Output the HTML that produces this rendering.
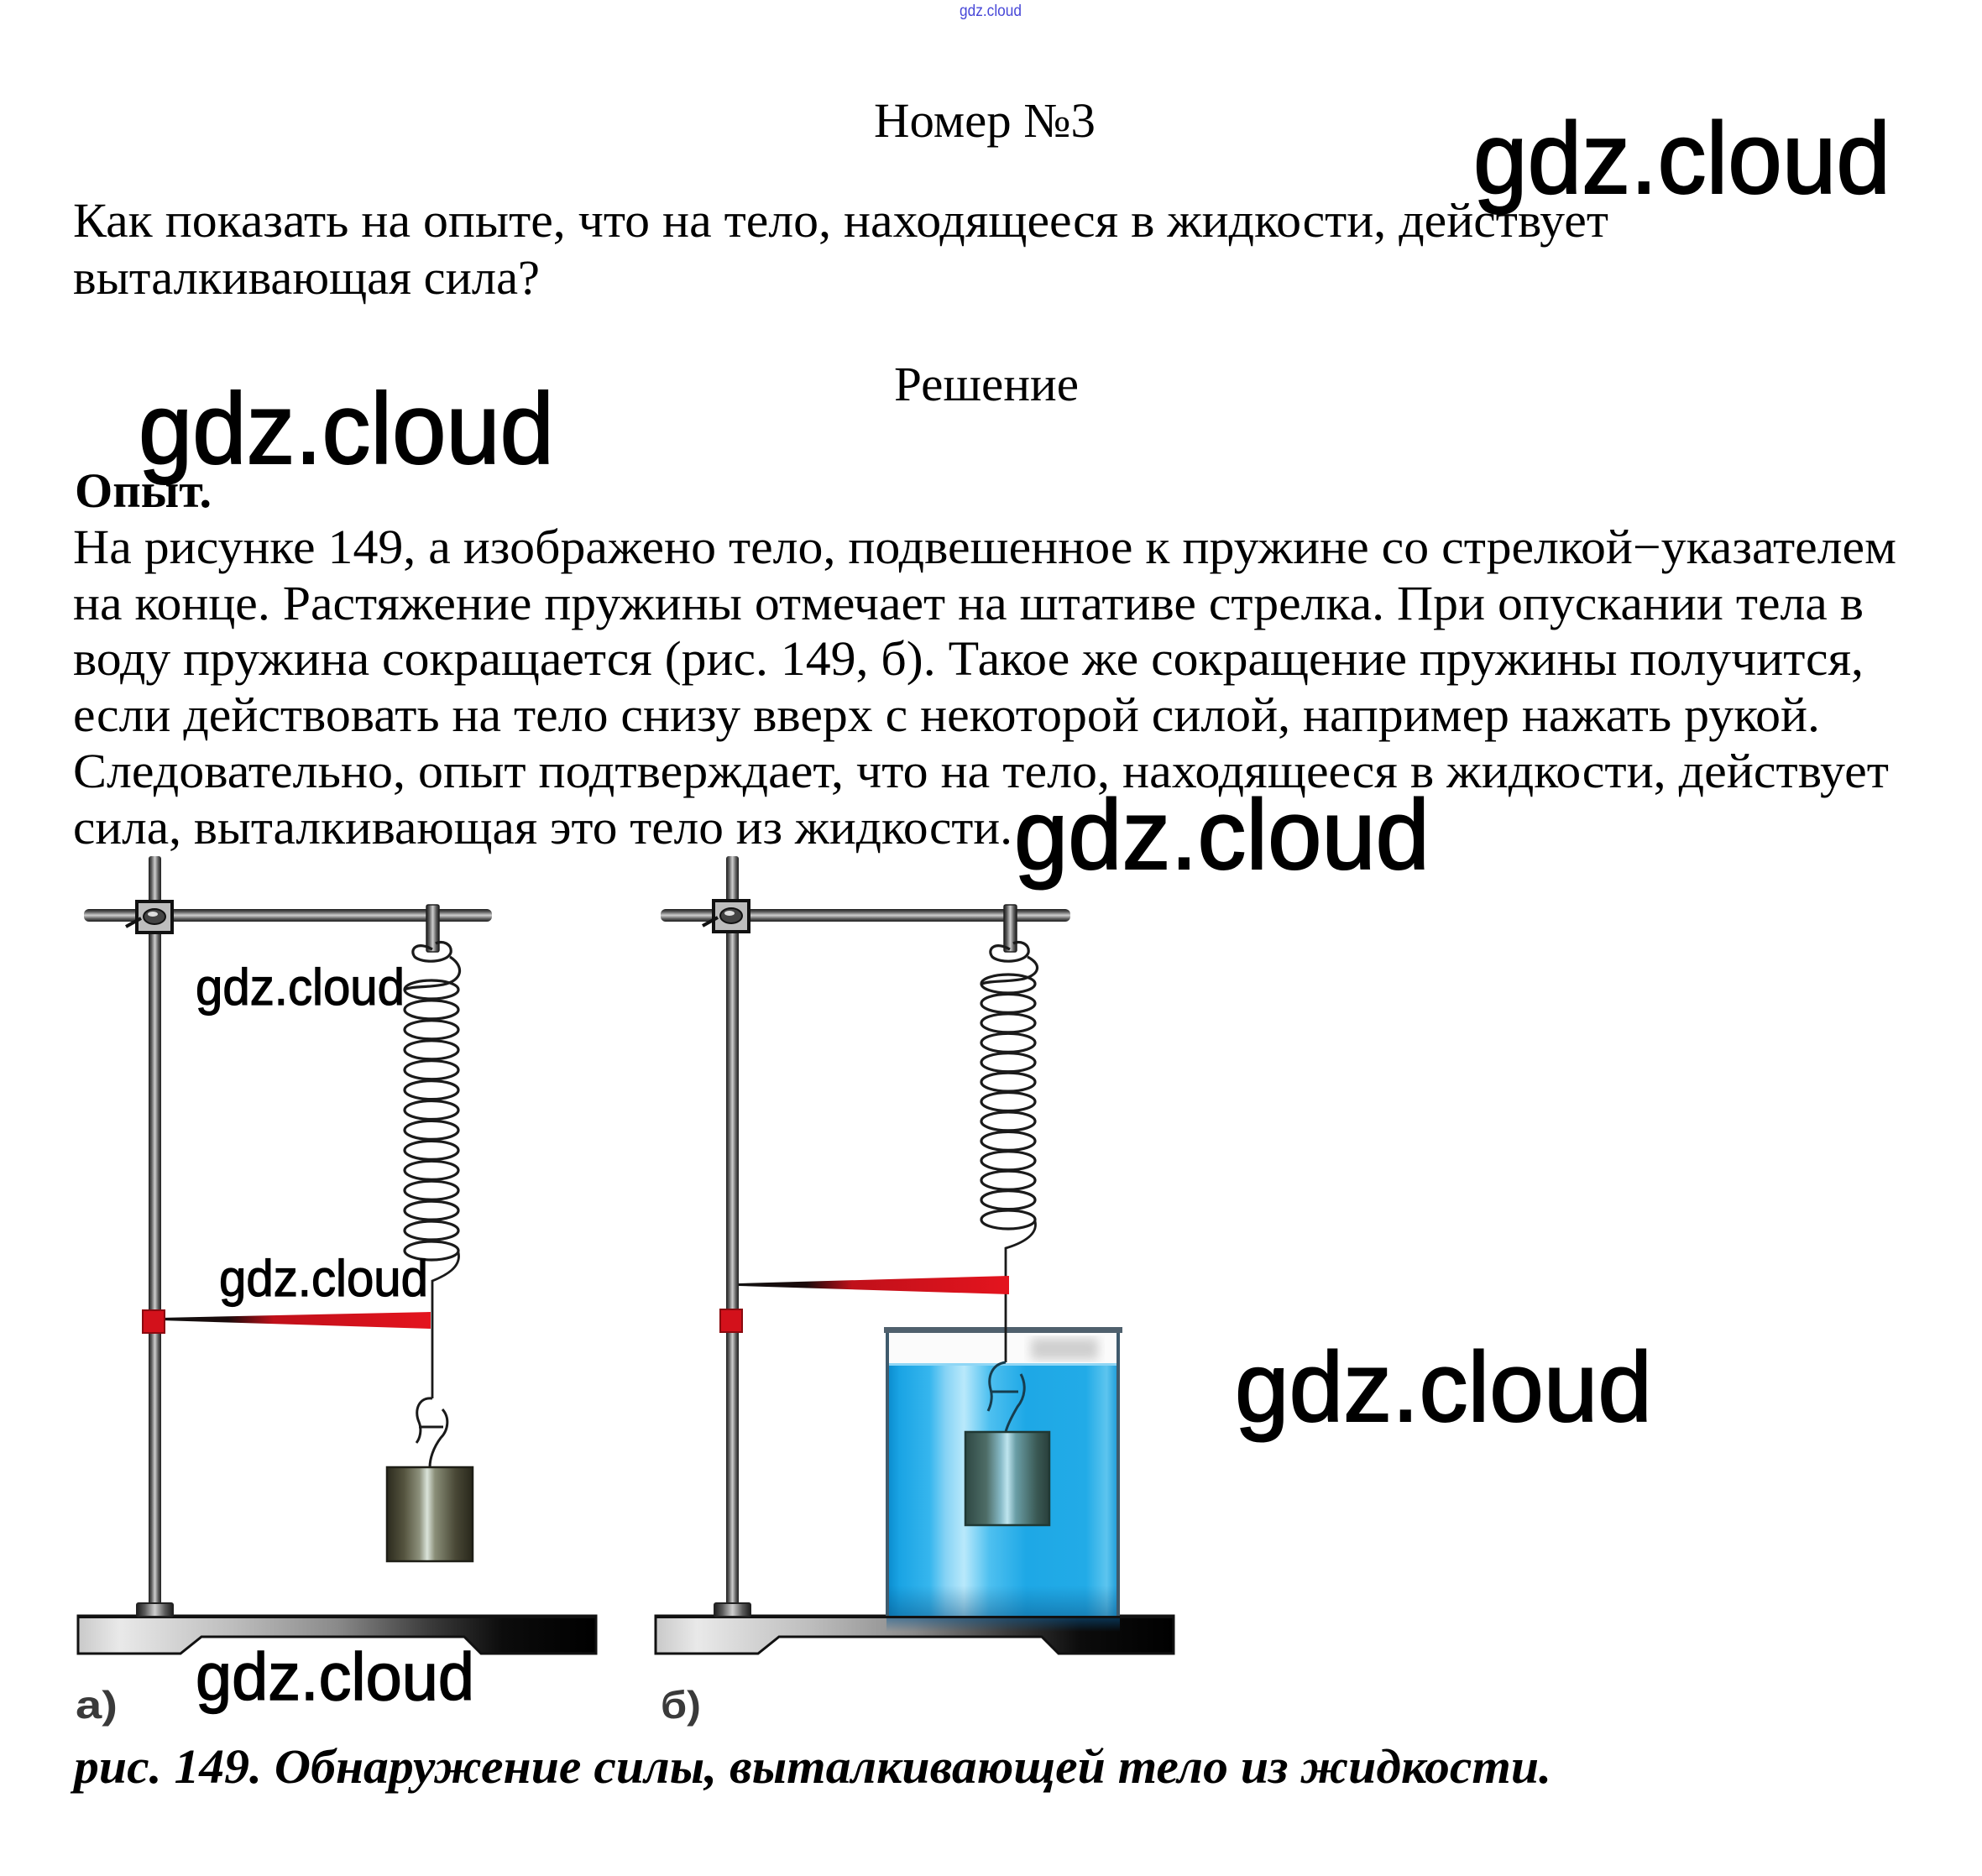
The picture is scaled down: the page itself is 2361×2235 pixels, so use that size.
<!DOCTYPE html>
<html><head><meta charset="utf-8"><style>html,body{margin:0;padding:0;background:#fff}svg{display:block}</style></head>
<body>
<svg width="2361" height="2235" viewBox="0 0 2361 2235" xmlns="http://www.w3.org/2000/svg">
<defs>
<linearGradient id="rodV" x1="0" y1="0" x2="1" y2="0">
<stop offset="0" stop-color="#1e1e1e"/><stop offset="0.22" stop-color="#5a5a5a"/><stop offset="0.5" stop-color="#cfcfcf"/><stop offset="0.78" stop-color="#5a5a5a"/><stop offset="1" stop-color="#1e1e1e"/>
</linearGradient>
<linearGradient id="rodH" x1="0" y1="0" x2="0" y2="1">
<stop offset="0" stop-color="#1e1e1e"/><stop offset="0.22" stop-color="#5a5a5a"/><stop offset="0.5" stop-color="#cfcfcf"/><stop offset="0.78" stop-color="#5a5a5a"/><stop offset="1" stop-color="#1e1e1e"/>
</linearGradient>
<linearGradient id="baseG" x1="0" y1="0" x2="1" y2="0">
<stop offset="0" stop-color="#c9c9c9"/><stop offset="0.08" stop-color="#e9e9e9"/><stop offset="0.3" stop-color="#bdbdbd"/><stop offset="0.5" stop-color="#8a8a8a"/><stop offset="0.68" stop-color="#3a3a3a"/><stop offset="0.82" stop-color="#0c0c0c"/><stop offset="1" stop-color="#000"/>
</linearGradient>
<linearGradient id="redL" x1="0" y1="0" x2="1" y2="0">
<stop offset="0" stop-color="#111"/><stop offset="0.25" stop-color="#1a0a0a"/><stop offset="0.42" stop-color="#c0101a"/><stop offset="1" stop-color="#e4141e"/>
</linearGradient>
<linearGradient id="wOl" x1="0" y1="0" x2="1" y2="0">
<stop offset="0" stop-color="#2c2b1e"/><stop offset="0.2" stop-color="#55543f"/><stop offset="0.38" stop-color="#8d917c"/><stop offset="0.47" stop-color="#dbe4da"/><stop offset="0.56" stop-color="#8a8e78"/><stop offset="0.8" stop-color="#494836"/><stop offset="1" stop-color="#28271b"/>
</linearGradient>
<linearGradient id="wTl" x1="0" y1="0" x2="1" y2="0">
<stop offset="0" stop-color="#2e4843"/><stop offset="0.25" stop-color="#4e6d67"/><stop offset="0.42" stop-color="#86b9c6"/><stop offset="0.5" stop-color="#bfe5ef"/><stop offset="0.6" stop-color="#6a9ea6"/><stop offset="0.85" stop-color="#3a5954"/><stop offset="1" stop-color="#293f3b"/>
</linearGradient>
<linearGradient id="water" x1="0" y1="0" x2="1" y2="0">
<stop offset="0" stop-color="#0b8dcf"/><stop offset="0.05" stop-color="#1aa4e4"/><stop offset="0.18" stop-color="#36b6ee"/><stop offset="0.25" stop-color="#86d3f5"/><stop offset="0.33" stop-color="#b9e9fb"/><stop offset="0.44" stop-color="#4ec0f0"/><stop offset="0.6" stop-color="#1ea8e6"/><stop offset="0.86" stop-color="#22abe7"/><stop offset="0.95" stop-color="#5dc5ef"/><stop offset="1" stop-color="#1a9ad8"/>
</linearGradient>
<linearGradient id="waterV" x1="0" y1="0" x2="0" y2="1">
<stop offset="0" stop-color="#0a4f80" stop-opacity="0"/><stop offset="0.88" stop-color="#0a4f80" stop-opacity="0"/><stop offset="1" stop-color="#0a4f80" stop-opacity="0.45"/>
</linearGradient>
<linearGradient id="shadowB" x1="0" y1="0" x2="0" y2="1">
<stop offset="0" stop-color="#0a5a95" stop-opacity="0.5"/><stop offset="1" stop-color="#0a5a95" stop-opacity="0"/>
</linearGradient>
<filter id="blur4"><feGaussianBlur stdDeviation="6"/></filter>
</defs>

<rect width="2361" height="2235" fill="#fff"/>

<!-- header texts -->
<text x="1143" y="19" font-family="Liberation Sans, sans-serif" font-size="19" fill="#4848d8" textLength="74" lengthAdjust="spacingAndGlyphs">gdz.cloud</text>
<g font-family="Liberation Serif, 'Times New Roman', serif" font-size="58" fill="#000">
<text x="1041" y="163" textLength="264" lengthAdjust="spacingAndGlyphs">Номер №3</text>
<text x="87" y="282" textLength="1829" lengthAdjust="spacingAndGlyphs">Как показать на опыте, что на тело, находящееся в жидкости, действует</text>
<text x="87" y="350" textLength="556" lengthAdjust="spacingAndGlyphs">выталкивающая сила?</text>
<text x="1065" y="477" textLength="220" lengthAdjust="spacingAndGlyphs">Решение</text>
<text x="89" y="604" font-weight="bold" textLength="163" lengthAdjust="spacingAndGlyphs">Опыт.</text>
<text x="87" y="671" textLength="2172" lengthAdjust="spacingAndGlyphs">На рисунке 149, а изображено тело, подвешенное к пружине со стрелкой−указателем</text>
<text x="87" y="738" textLength="2133" lengthAdjust="spacingAndGlyphs">на конце. Растяжение пружины отмечает на штативе стрелка. При опускании тела в</text>
<text x="87" y="804" textLength="2133" lengthAdjust="spacingAndGlyphs">воду пружина сокращается (рис. 149, б). Такое же сокращение пружины получится,</text>
<text x="87" y="871" textLength="2081" lengthAdjust="spacingAndGlyphs">если действовать на тело снизу вверх с некоторой силой, например нажать рукой.</text>
<text x="87" y="938" textLength="2163" lengthAdjust="spacingAndGlyphs">Следовательно, опыт подтверждает, что на тело, находящееся в жидкости, действует</text>
<text x="87" y="1005" textLength="1119" lengthAdjust="spacingAndGlyphs">сила, выталкивающая это тело из жидкости.</text>
<text x="88" y="2124" font-weight="bold" font-style="italic" textLength="1760" lengthAdjust="spacingAndGlyphs">рис. 149. Обнаружение силы, выталкивающей тело из жидкости.</text>
</g>

<!-- ===== LEFT FIGURE ===== -->
<polygon points="93,1925 710,1925 710,1970 573,1970 553,1950 240,1950 215,1970 93,1970" fill="url(#baseG)" stroke="#111" stroke-width="3"/>
<rect x="93" y="1924" width="617" height="4" fill="#111"/>
<rect x="177" y="1020" width="15" height="892" rx="3" fill="url(#rodV)"/>
<rect x="163" y="1910" width="43" height="16" rx="2" fill="url(#rodV)" stroke="#222" stroke-width="2"/>
<rect x="100" y="1083" width="486" height="15" rx="6" fill="url(#rodH)"/>
<rect x="163" y="1074" width="42" height="37" fill="#bdbdbd" stroke="#111" stroke-width="4"/>
<ellipse cx="184" cy="1092" rx="13" ry="9" fill="#444" stroke="#111" stroke-width="2"/>
<ellipse cx="182" cy="1089" rx="6" ry="3" fill="#ddd"/>
<line x1="150" y1="1104" x2="168" y2="1094" stroke="#111" stroke-width="4"/>
<rect x="508" y="1078" width="15" height="56" rx="2" fill="url(#rodV)" stroke="#222" stroke-width="1.5"/>
<g fill="none" stroke="#1a1a1a" stroke-width="3.2">
<path d="M 515 1131 C 498 1121, 487 1130, 494 1140 C 503 1148, 533 1147, 537 1135 C 539 1124, 526 1120, 519 1124"/>
<path d="M 536 1140 C 552 1150, 552 1166, 532 1172 C 515 1177, 492 1174, 482 1179"/>
<ellipse cx="514" cy="1179" rx="32" ry="11"/>
<ellipse cx="514" cy="1202.9" rx="32" ry="11"/>
<ellipse cx="514" cy="1226.8" rx="32" ry="11"/>
<ellipse cx="514" cy="1250.8" rx="32" ry="11"/>
<ellipse cx="514" cy="1274.7" rx="32" ry="11"/>
<ellipse cx="514" cy="1298.6" rx="32" ry="11"/>
<ellipse cx="514" cy="1322.5" rx="32" ry="11"/>
<ellipse cx="514" cy="1346.4" rx="32" ry="11"/>
<ellipse cx="514" cy="1370.4" rx="32" ry="11"/>
<ellipse cx="514" cy="1394.3" rx="32" ry="11"/>
<ellipse cx="514" cy="1418.2" rx="32" ry="11"/>
<ellipse cx="514" cy="1442.1" rx="32" ry="11"/>
<ellipse cx="514" cy="1466" rx="32" ry="11"/>
<ellipse cx="514" cy="1490" rx="32" ry="11"/>
<path d="M 546 1492 C 550 1510, 530 1520, 515 1526 L 515 1666" stroke-width="2.8"/>
<path d="M 515 1666 C 499 1664, 493 1680, 499 1694 C 503 1704, 500 1714, 496 1719" stroke-width="3"/>
<path d="M 499 1700 L 528 1700" stroke-width="3"/>
<path d="M 527 1679 C 536 1689, 534 1704, 525 1713 C 516 1725, 512 1738, 512 1748" stroke-width="3"/>
</g>
<polygon points="191,1570 191,1573 513,1583 513,1563" fill="url(#redL)"/>
<rect x="170" y="1561" width="26" height="27" fill="#d3111b" stroke="#8a0a10" stroke-width="2"/>
<rect x="461" y="1748" width="102" height="112" fill="url(#wOl)" stroke="#1e1e16" stroke-width="2.5"/>
<text x="90" y="2047" font-family="Liberation Sans, sans-serif" font-weight="bold" font-size="46" fill="#3a3a3a" textLength="50" lengthAdjust="spacingAndGlyphs">а)</text>

<!-- ===== RIGHT FIGURE ===== -->
<polygon points="781,1925 1398,1925 1398,1970 1261,1970 1241,1950 928,1950 903,1970 781,1970" fill="url(#baseG)" stroke="#111" stroke-width="3"/>
<rect x="781" y="1924" width="617" height="4" fill="#111"/>
<rect x="1056" y="1928" width="278" height="16" fill="url(#shadowB)"/>
<rect x="865" y="1020" width="15" height="892" rx="3" fill="url(#rodV)"/>
<rect x="851" y="1910" width="43" height="16" rx="2" fill="url(#rodV)" stroke="#222" stroke-width="2"/>
<rect x="787" y="1083" width="488" height="15" rx="6" fill="url(#rodH)"/>
<rect x="850" y="1073" width="42" height="37" fill="#bdbdbd" stroke="#111" stroke-width="4"/>
<ellipse cx="871" cy="1091" rx="13" ry="9" fill="#444" stroke="#111" stroke-width="2"/>
<ellipse cx="869" cy="1088" rx="6" ry="3" fill="#ddd"/>
<line x1="837" y1="1103" x2="855" y2="1093" stroke="#111" stroke-width="4"/>
<rect x="1196" y="1078" width="15" height="56" rx="2" fill="url(#rodV)" stroke="#222" stroke-width="1.5"/>
<rect x="1058" y="1588" width="274" height="37" fill="#fbfbfb"/>
<rect x="1228" y="1594" width="80" height="26" fill="#cfcfcf" filter="url(#blur4)"/>
<rect x="1058" y="1625" width="274" height="300" fill="url(#water)"/>
<rect x="1058" y="1625" width="274" height="300" fill="url(#waterV)"/>
<rect x="1058" y="1624" width="274" height="3" fill="#8fd6f5"/>
<rect x="1055" y="1588" width="4" height="337" fill="#3f5a6c"/>
<rect x="1330" y="1588" width="4" height="337" fill="#3f5a6c"/>
<rect x="1053" y="1581" width="284" height="7" fill="#4f606d"/>
<g fill="none" stroke="#1a1a1a" stroke-width="3.2">
<path d="M 1203 1131 C 1186 1121, 1175 1130, 1182 1140 C 1191 1148, 1221 1147, 1225 1135 C 1227 1124, 1214 1120, 1207 1124"/>
<path d="M 1224 1140 C 1240 1148, 1240 1160, 1220 1166 C 1203 1170, 1180 1168, 1170 1172"/>
<ellipse cx="1201" cy="1172" rx="32" ry="11"/>
<ellipse cx="1201" cy="1195.4" rx="32" ry="11"/>
<ellipse cx="1201" cy="1218.8" rx="32" ry="11"/>
<ellipse cx="1201" cy="1242.3" rx="32" ry="11"/>
<ellipse cx="1201" cy="1265.7" rx="32" ry="11"/>
<ellipse cx="1201" cy="1289.1" rx="32" ry="11"/>
<ellipse cx="1201" cy="1312.5" rx="32" ry="11"/>
<ellipse cx="1201" cy="1335.9" rx="32" ry="11"/>
<ellipse cx="1201" cy="1359.4" rx="32" ry="11"/>
<ellipse cx="1201" cy="1382.8" rx="32" ry="11"/>
<ellipse cx="1201" cy="1406.2" rx="32" ry="11"/>
<ellipse cx="1201" cy="1429.6" rx="32" ry="11"/>
<ellipse cx="1201" cy="1453" rx="32" ry="11"/>
<path d="M 1233 1455 C 1237 1472, 1215 1482, 1198 1487 L 1198 1623" stroke-width="2.8"/>
</g>
<g fill="none" stroke="#173d4e" stroke-width="3">
<path d="M 1198 1623 C 1182 1625, 1176 1640, 1180 1655 C 1183 1665, 1180 1675, 1177 1681"/>
<path d="M 1180 1658 L 1213 1658"/>
<path d="M 1216 1637 C 1223 1650, 1221 1665, 1212 1676 C 1205 1688, 1200 1698, 1198 1706"/>
</g>
<polygon points="880,1529 880,1532 1202,1542 1202,1520" fill="url(#redL)"/>
<rect x="858" y="1560" width="26" height="27" fill="#d3111b" stroke="#8a0a10" stroke-width="2"/>
<rect x="1150" y="1706" width="100" height="111" fill="url(#wTl)" stroke="#1f3834" stroke-width="2.5"/>
<text x="787" y="2047" font-family="Liberation Sans, sans-serif" font-weight="bold" font-size="46" fill="#3a3a3a" textLength="48" lengthAdjust="spacingAndGlyphs">б)</text>

<!-- watermarks -->
<g font-family="Liberation Sans, Arial, sans-serif" fill="#000" stroke="#000">
<text x="1755" y="230" font-size="121" stroke-width="2" textLength="497" lengthAdjust="spacingAndGlyphs">gdz.cloud</text>
<text x="165" y="552" font-size="120" stroke-width="2" textLength="495" lengthAdjust="spacingAndGlyphs">gdz.cloud</text>
<text x="1208" y="1035" font-size="118" stroke-width="2" textLength="495" lengthAdjust="spacingAndGlyphs">gdz.cloud</text>
<text x="1471" y="1693" font-size="118" stroke-width="2" textLength="497" lengthAdjust="spacingAndGlyphs">gdz.cloud</text>
<text x="233" y="1197" font-size="61" stroke-width="1.2" textLength="249" lengthAdjust="spacingAndGlyphs">gdz.cloud</text>
<text x="261" y="1544" font-size="61" stroke-width="1.2" textLength="249" lengthAdjust="spacingAndGlyphs">gdz.cloud</text>
<text x="233" y="2025" font-size="80" stroke-width="1.5" textLength="332" lengthAdjust="spacingAndGlyphs">gdz.cloud</text>
</g>
</svg>
</body></html>
